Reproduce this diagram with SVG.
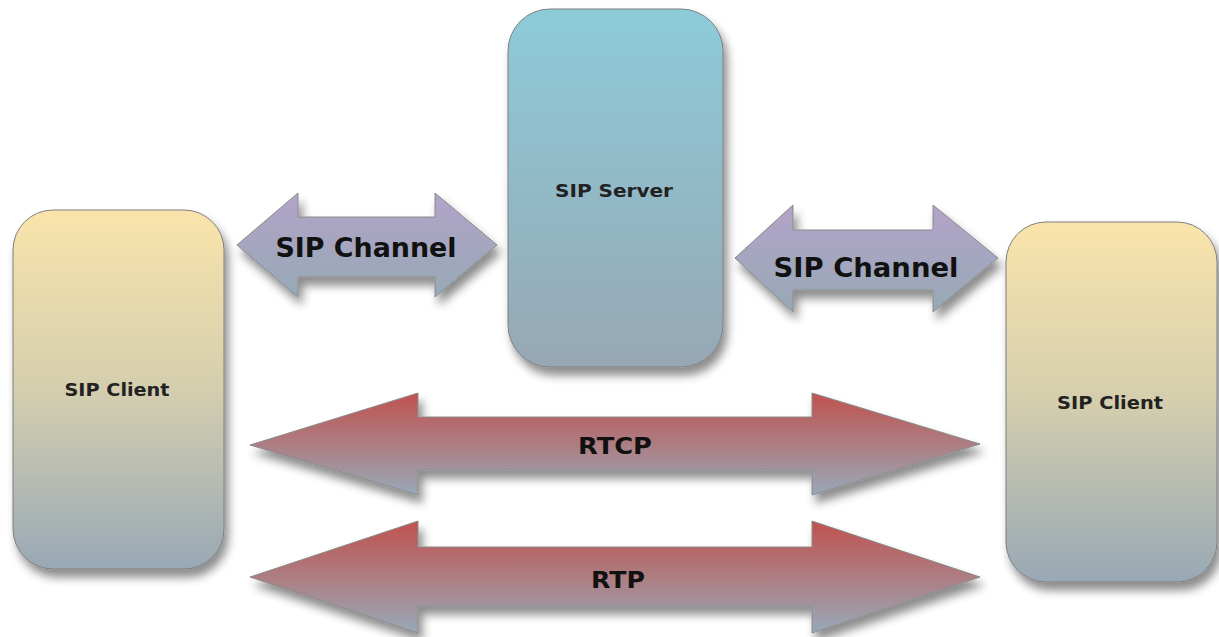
<svg xmlns="http://www.w3.org/2000/svg" width="1219" height="637" viewBox="0 0 1219 637">
<defs>
<linearGradient id="gClient" x1="0" y1="0" x2="0" y2="1">
<stop offset="0" stop-color="#fae4ab"/>
<stop offset="0.5" stop-color="#d4ceae"/>
<stop offset="1" stop-color="#98a8b5"/>
</linearGradient>
<linearGradient id="gServer" x1="0" y1="0" x2="0" y2="1">
<stop offset="0" stop-color="#8dcbd9"/>
<stop offset="1" stop-color="#97a7b4"/>
</linearGradient>
<linearGradient id="gSip" x1="0" y1="0" x2="0" y2="1">
<stop offset="0" stop-color="#b3a3c9"/>
<stop offset="1" stop-color="#96a9b5"/>
</linearGradient>
<linearGradient id="gRed" x1="0" y1="0" x2="0" y2="1">
<stop offset="0" stop-color="#c0524f"/>
<stop offset="0.5" stop-color="#ad7d82"/>
<stop offset="1" stop-color="#98a9b8"/>
</linearGradient>
<filter id="sh" x="-10%" y="-10%" width="125%" height="135%">
<feDropShadow dx="4" dy="8" stdDeviation="5" flood-color="#000" flood-opacity="0.45"/>
</filter>
</defs>
<style>
.box{stroke:#7f7f7f;stroke-width:1;filter:url(#sh)}
.arr{stroke:#8a8a8a;stroke-width:1;filter:url(#sh)}
.nl{font-family:"DejaVu Sans",Verdana,sans-serif;font-weight:bold;font-size:17px;fill:#222;text-anchor:middle}
.cl{font-family:"DejaVu Sans",Verdana,sans-serif;font-weight:bold;font-size:26px;fill:#111;text-anchor:middle}
.rl{font-family:"DejaVu Sans",Verdana,sans-serif;font-weight:bold;font-size:23px;fill:#111;text-anchor:middle}
</style>
<rect width="1219" height="637" fill="#ffffff"/>
<g id="connectors">
<g id="sip-channel-left">
<path class="arr" fill="url(#gSip)" d="M237,245 L298,193 L298,217 L435,217 L435,193 L497,245 L435,297 L435,277 L298,277 L298,297 Z"/>
<text class="cl" x="366" y="257" textLength="181" lengthAdjust="spacingAndGlyphs">SIP Channel</text>
</g>
<g id="sip-channel-right">
<path class="arr" fill="url(#gSip)" d="M735,258 L793,205 L793,230 L933,230 L933,205 L998,258 L933,312 L933,290 L793,290 L793,312 Z"/>
<text class="cl" x="866" y="277" textLength="185" lengthAdjust="spacingAndGlyphs">SIP Channel</text>
</g>
<g id="rtcp">
<path class="arr" fill="url(#gRed)" d="M250,445 L418,393 L418,417 L812,417 L812,393 L980,444 L812,495 L812,470 L418,470 L418,495 Z"/>
<text class="rl" x="615" y="454" textLength="74" lengthAdjust="spacingAndGlyphs">RTCP</text>
</g>
<g id="rtp">
<path class="arr" fill="url(#gRed)" d="M250,577 L418,521 L418,547 L812,547 L812,521 L980,577 L812,633 L812,606 L418,606 L418,633 Z"/>
<text class="rl" x="618" y="588" textLength="54" lengthAdjust="spacingAndGlyphs">RTP</text>
</g>
</g>
<g id="sip-client-left">
<rect class="box" x="13" y="210" width="211" height="359" rx="40" fill="url(#gClient)"/>
<text class="nl" x="117" y="396" textLength="105" lengthAdjust="spacingAndGlyphs">SIP Client</text>
</g>
<g id="sip-server">
<rect class="box" x="508" y="9" width="215" height="358" rx="42" fill="url(#gServer)"/>
<text class="nl" x="614" y="197" textLength="118" lengthAdjust="spacingAndGlyphs">SIP Server</text>
</g>
<g id="sip-client-right">
<rect class="box" x="1006" y="222" width="211" height="360" rx="40" fill="url(#gClient)"/>
<text class="nl" x="1110" y="409" textLength="106" lengthAdjust="spacingAndGlyphs">SIP Client</text>
</g>
</svg>
